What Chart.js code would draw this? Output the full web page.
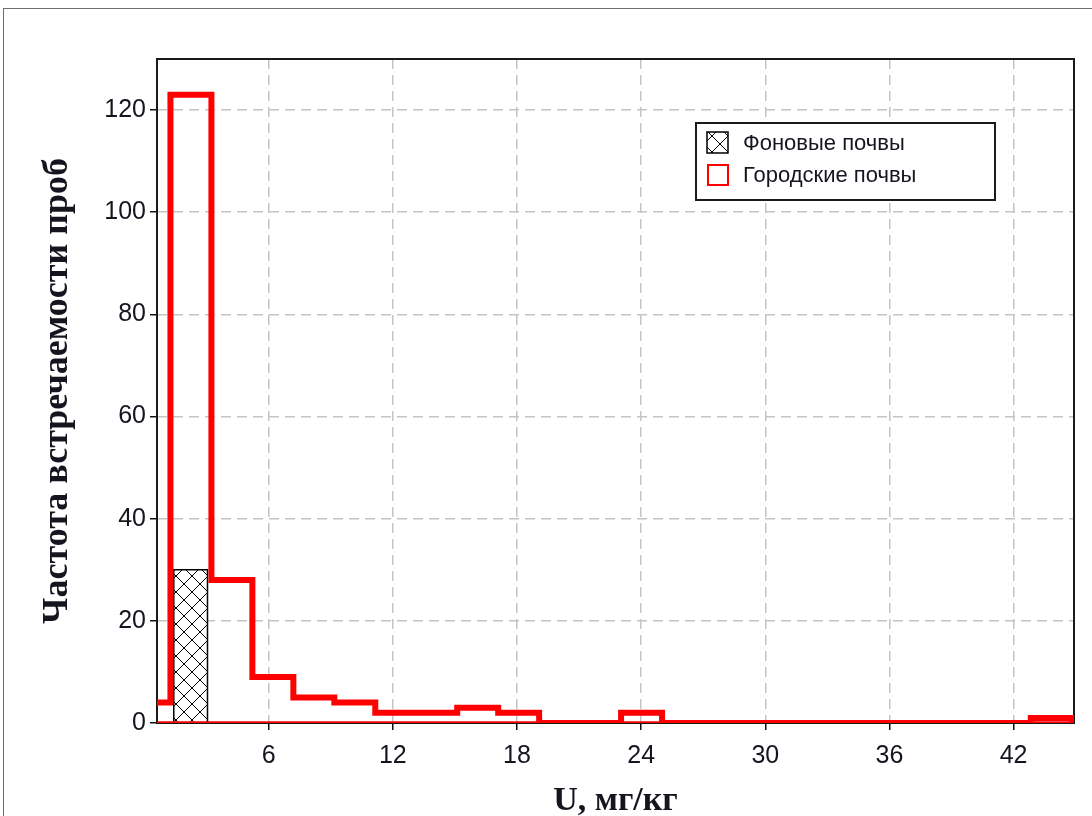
<!DOCTYPE html>
<html>
<head>
<meta charset="utf-8">
<script src="https://cdn.jsdelivr.net/npm/chart.js@4.4.1/dist/chart.umd.min.js"></script>
<style>
  html, body { margin: 0; padding: 0; background: #fff; }
  #frame { position: absolute; left: 3px; top: 8px; width: 1200px; height: 900px;
           border-left: 1px solid #6e6e6e; border-top: 1px solid #6e6e6e; }
  #wrap { position: absolute; left: 0; top: 0; width: 1092px; height: 816px; }
</style>
</head>
<body>
<div id="frame"></div>
<div id="wrap"><canvas id="chart" width="1092" height="816"></canvas></div>
<script>
// гистограмма городских почв (границы интервалов и частоты)
const cityBinEdges = [-0.73, 1.25, 3.23, 5.21, 7.19, 9.17, 11.15, 13.13, 15.11, 17.09, 19.07, 21.05,
    23.03, 25.01, 26.99, 28.97, 30.95, 32.93, 34.91, 36.89, 38.87, 40.85, 42.83, 44.81];
const cityCounts = [4, 123, 28, 9, 5, 4, 2, 2, 3, 2, 0, 0, 2, 0, 0, 0, 0, 0, 0, 0, 0, 0, 1];

// фоновые почвы
const bgBinEdges = [1.41, 3.04];
const bgCounts = [30];

const xTicks = [6, 12, 18, 24, 30, 36, 42];
const yTicks = [0, 20, 40, 60, 80, 100, 120];
const xMin = 0.6, xMax = 44.92, yMax = 130;

// точки ступенчатой линии из границ и частот
function stepPoints(edges, counts) {
    const pts = [{ x: edges[0], y: 0 }];
    counts.forEach((c, i) => pts.push({ x: edges[i], y: c }));
    pts.push({ x: edges[edges.length - 1], y: 0 });
    return pts;
}

// штриховка для фоновых почв
function makeHatch() {
    const s = 16;
    const c = document.createElement('canvas');
    c.width = s; c.height = s;
    const g = c.getContext('2d');
    g.fillStyle = '#fff';
    g.fillRect(0, 0, s, s);
    g.strokeStyle = '#000';
    g.lineWidth = 1;
    g.beginPath();
    g.moveTo(0, 0); g.lineTo(s, s);
    g.moveTo(s, 0); g.lineTo(0, s);
    g.stroke();
    return c;
}
const ctx = document.getElementById('chart').getContext('2d');
const hatch = ctx.createPattern(makeHatch(), 'repeat');

Chart.defaults.font.family = '"Liberation Sans", Arial, sans-serif';
Chart.defaults.color = '#15151f';

const plotFrame = {
    id: 'plotFrame',
    beforeDatasetsDraw(chart) {
        const { ctx, chartArea: a } = chart;
        ctx.save();
        ctx.strokeStyle = '#1a1a1a';
        ctx.lineWidth = 2;
        ctx.strokeRect(a.left, a.top, a.right - a.left, a.bottom - a.top);
        ctx.restore();
    }
};

const legendBox = {
    id: 'legendBox',
    afterDatasetsDraw(chart) {
        const { ctx, chartArea: a } = chart;
        const x = a.left + 539, y = a.top + 64, w = 299, h = 77;
        ctx.save();
        ctx.fillStyle = '#fff';
        ctx.fillRect(x, y, w, h);
        ctx.strokeStyle = '#1a1a1a';
        ctx.lineWidth = 2;
        ctx.strokeRect(x, y, w, h);

        // Фоновые почвы
        ctx.fillStyle = hatch;
        ctx.fillRect(x + 11, y + 9, 21, 21);
        ctx.strokeStyle = '#000';
        ctx.lineWidth = 1.5;
        ctx.strokeRect(x + 11, y + 9, 21, 21);
        // Городские почвы
        ctx.strokeStyle = '#ff0000';
        ctx.lineWidth = 2;
        ctx.strokeRect(x + 12, y + 42, 20, 20);

        ctx.fillStyle = '#15151f';
        ctx.font = '22px "Liberation Sans", Arial, sans-serif';
        ctx.textBaseline = 'middle';
        ctx.fillText(chart.data.datasets[2].label, x + 47, y + 21);
        ctx.fillText(chart.data.datasets[0].label, x + 47, y + 53);
        ctx.restore();
    }
};

new Chart(ctx, {
    type: 'line',
    data: {
        datasets: [
            {
                label: 'Городские почвы',
                data: stepPoints(cityBinEdges, cityCounts),
                stepped: true,
                borderColor: '#ff0000',
                borderWidth: 6,
                borderJoinStyle: 'miter',
                pointRadius: 0,
                fill: false,
                clip: 0,
                order: 0
            },
            {
                label: 'base',
                data: [{ x: xMin, y: 0 }, { x: xMax, y: 0 }],
                borderColor: '#ff0000',
                borderWidth: 3.5,
                pointRadius: 0,
                fill: false,
                order: 1
            },
            {
                label: 'Фоновые почвы',
                data: stepPoints(bgBinEdges, bgCounts),
                stepped: true,
                borderColor: '#000',
                borderWidth: 1.5,
                backgroundColor: hatch,
                fill: 'origin',
                pointRadius: 0,
                order: 2
            }
        ]
    },
    options: {
        responsive: false,
        animation: false,
        devicePixelRatio: 1,
        layout: { padding: { top: 59, right: 18, left: 0, bottom: 0 } },
        plugins: { legend: { display: false }, tooltip: { enabled: false } },
        scales: {
            x: {
                type: 'linear',
                min: xMin,
                max: xMax,
                afterBuildTicks: (s) => { s.ticks = xTicks.map(v => ({ value: v })); },
                afterFit: (s) => { s.height = 93; },
                border: { display: false, dash: [10, 6] },
                grid: { color: '#c4c4c4', lineWidth: 1.5, tickColor: '#111', tickWidth: 1.5,
                        tickLength: 7, tickBorderDash: [] },
                ticks: { font: { size: 25 }, padding: 11, maxRotation: 0 },
                title: { display: true, text: 'U, мг/кг', padding: { top: 0, bottom: -2 },
                         font: { family: '"Liberation Serif", "Times New Roman", serif', size: 34, weight: 'bold', lineHeight: 1 } }
            },
            y: {
                min: 0,
                max: yMax,
                afterBuildTicks: (s) => { s.ticks = yTicks.map(v => ({ value: v })); },
                afterFit: (s) => { s.width = 157; },
                border: { display: false, dash: [10, 6] },
                grid: { color: '#c4c4c4', lineWidth: 1.5, tickColor: '#111', tickWidth: 1.5,
                        tickLength: 7, tickBorderDash: [] },
                ticks: { font: { size: 25 }, padding: 4 },
                title: { display: true, text: 'Частота встречаемости проб', padding: { top: 40, bottom: 0 },
                         font: { family: '"Liberation Serif", "Times New Roman", serif', size: 36, weight: 'bold', lineHeight: 1 } }
            }
        }
    },
    plugins: [plotFrame, legendBox]
});
</script>
</body>
</html>
